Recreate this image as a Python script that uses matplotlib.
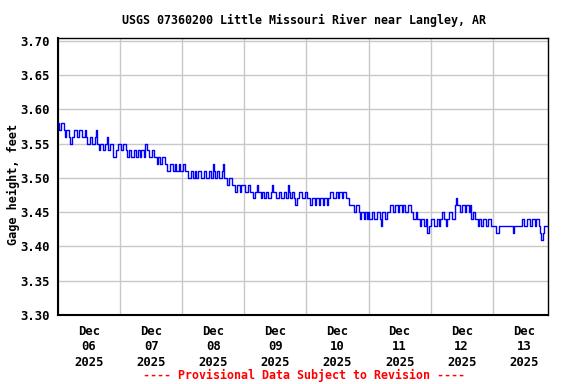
import numpy as np
import pandas as pd
import matplotlib
matplotlib.use("Agg")
import matplotlib.pyplot as plt
import matplotlib.dates as mdates

# ─── DATA (half-hourly gage height, feet) ─────────────────────────────────────
dec06 = [3.58, 3.57, 3.57, 3.58, 3.58, 3.57, 3.56, 3.57, 3.57, 3.56, 3.55, 3.56,
         3.56, 3.57, 3.57, 3.56, 3.56, 3.57, 3.57, 3.56, 3.56, 3.57, 3.56, 3.55,
         3.55, 3.56, 3.56, 3.55, 3.55, 3.56, 3.57, 3.55, 3.54, 3.55, 3.55, 3.54,
         3.54, 3.55, 3.56, 3.54, 3.54, 3.55, 3.55, 3.53, 3.53, 3.54, 3.54, 3.55]
dec07 = [3.55, 3.54, 3.54, 3.55, 3.55, 3.54, 3.53, 3.54, 3.54, 3.53, 3.53, 3.54,
         3.54, 3.53, 3.54, 3.54, 3.53, 3.54, 3.54, 3.53, 3.55, 3.54, 3.54, 3.53,
         3.53, 3.54, 3.54, 3.53, 3.53, 3.52, 3.53, 3.52, 3.52, 3.53, 3.53, 3.52,
         3.52, 3.51, 3.51, 3.52, 3.52, 3.51, 3.51, 3.52, 3.51, 3.51, 3.52, 3.51]
dec08 = [3.51, 3.52, 3.52, 3.51, 3.51, 3.50, 3.50, 3.51, 3.51, 3.50, 3.51, 3.50,
         3.50, 3.51, 3.51, 3.50, 3.50, 3.51, 3.51, 3.50, 3.50, 3.51, 3.51, 3.50,
         3.52, 3.51, 3.50, 3.51, 3.51, 3.50, 3.50, 3.51, 3.52, 3.50, 3.50, 3.49,
         3.49, 3.50, 3.50, 3.49, 3.49, 3.48, 3.48, 3.49, 3.49, 3.48, 3.49, 3.49]
dec09 = [3.49, 3.48, 3.48, 3.49, 3.49, 3.48, 3.48, 3.47, 3.47, 3.48, 3.49, 3.48,
         3.48, 3.47, 3.48, 3.48, 3.47, 3.48, 3.48, 3.47, 3.47, 3.48, 3.49, 3.48,
         3.48, 3.47, 3.47, 3.48, 3.48, 3.47, 3.47, 3.48, 3.48, 3.47, 3.49, 3.48,
         3.47, 3.48, 3.48, 3.47, 3.46, 3.47, 3.47, 3.48, 3.48, 3.47, 3.47, 3.48]
dec10 = [3.48, 3.47, 3.47, 3.46, 3.46, 3.47, 3.47, 3.46, 3.47, 3.47, 3.46, 3.47,
         3.47, 3.46, 3.47, 3.47, 3.46, 3.47, 3.47, 3.48, 3.48, 3.47, 3.47, 3.48,
         3.48, 3.47, 3.48, 3.48, 3.47, 3.48, 3.48, 3.47, 3.47, 3.46, 3.46, 3.46,
         3.46, 3.45, 3.45, 3.46, 3.46, 3.45, 3.44, 3.45, 3.45, 3.44, 3.45, 3.44]
dec11 = [3.45, 3.44, 3.44, 3.45, 3.45, 3.44, 3.44, 3.45, 3.45, 3.44, 3.43, 3.45,
         3.45, 3.44, 3.44, 3.45, 3.45, 3.46, 3.46, 3.45, 3.45, 3.46, 3.46, 3.45,
         3.46, 3.46, 3.45, 3.46, 3.46, 3.45, 3.45, 3.46, 3.46, 3.45, 3.45, 3.44,
         3.44, 3.45, 3.44, 3.44, 3.43, 3.44, 3.44, 3.43, 3.43, 3.44, 3.42, 3.43]
dec12 = [3.43, 3.44, 3.44, 3.43, 3.43, 3.44, 3.44, 3.43, 3.44, 3.45, 3.45, 3.44,
         3.43, 3.44, 3.44, 3.45, 3.45, 3.44, 3.44, 3.46, 3.47, 3.46, 3.46, 3.45,
         3.45, 3.46, 3.46, 3.45, 3.46, 3.46, 3.45, 3.46, 3.44, 3.45, 3.45, 3.44,
         3.44, 3.43, 3.44, 3.43, 3.43, 3.44, 3.44, 3.43, 3.43, 3.44, 3.44, 3.43]
dec13 = [3.43, 3.43, 3.43, 3.42, 3.42, 3.43, 3.43, 3.43, 3.43, 3.43, 3.43, 3.43,
         3.43, 3.43, 3.43, 3.43, 3.42, 3.43, 3.43, 3.43, 3.43, 3.43, 3.43, 3.44,
         3.44, 3.43, 3.43, 3.44, 3.44, 3.43, 3.43, 3.44, 3.44, 3.43, 3.44, 3.44,
         3.43, 3.42, 3.41, 3.42, 3.43, 3.43, 3.43, 3.43]

gage = dec06 + dec07 + dec08 + dec09 + dec10 + dec11 + dec12 + dec13
times = pd.date_range("2025-12-06 00:00", periods=len(gage), freq="30min")

TITLE = "USGS 07360200 Little Missouri River near Langley, AR"
FOOTER = "---- Provisional Data Subject to Revision ----"

# ─── PLOT ─────────────────────────────────────────────────────────────────────
plt.rcParams["font.family"] = ["DejaVu Sans Mono"]
plt.rcParams["font.weight"] = "bold"

fig = plt.figure(figsize=(5.76, 3.84), dpi=100)
ax = fig.add_axes([0.1007, 0.1797, 0.8507, 0.7213])

ax.plot(times, gage, color="#0000ff", linewidth=1.0, drawstyle="steps-mid", zorder=3)

ax.set_ylim(3.30, 3.704)
ax.set_yticks(np.arange(3.30, 3.701, 0.05))
ax.yaxis.set_major_formatter(matplotlib.ticker.FormatStrFormatter("%.2f"))

ax.set_xlim(pd.Timestamp("2025-12-06 00:00"), pd.Timestamp("2025-12-13 21:20"))
ax.xaxis.set_major_locator(mdates.DayLocator())
ax.xaxis.set_major_formatter(matplotlib.ticker.NullFormatter())
ax.xaxis.set_minor_locator(mdates.HourLocator(byhour=[12]))
ax.xaxis.set_minor_formatter(mdates.DateFormatter("%b\n%d\n%Y"))

ax.grid(True, which="major", color="#c8c8c8", linewidth=1.0, zorder=0)
ax.tick_params(axis="both", which="both", length=0, labelsize=8.8, colors="black")
ax.tick_params(axis="x", which="minor", pad=7)
for lbl in ax.xaxis.get_minorticklabels():
    lbl.set_linespacing(1.25)
    lbl.set_fontweight("bold")
for lbl in ax.get_yticklabels():
    lbl.set_fontweight("bold")
ax.tick_params(axis="y", pad=6)

for s in ax.spines.values():
    s.set_color("black")
    s.set_linewidth(1.0)
ax.spines["left"].set_linewidth(1.5)
ax.spines["bottom"].set_linewidth(1.5)

ax.set_ylabel("Gage height, feet", fontsize=8.6, fontweight="bold")
ax.yaxis.set_label_coords(-0.078, 0.47)
fig.text(0.527, 0.947, TITLE, ha="center", va="center", fontsize=8.4, fontweight="bold")
fig.text(0.527, 0.023, FOOTER, ha="center", va="center", fontsize=8.4,
         fontweight="bold", color="#ff0000")

fig.savefig("out.png", dpi=100)
